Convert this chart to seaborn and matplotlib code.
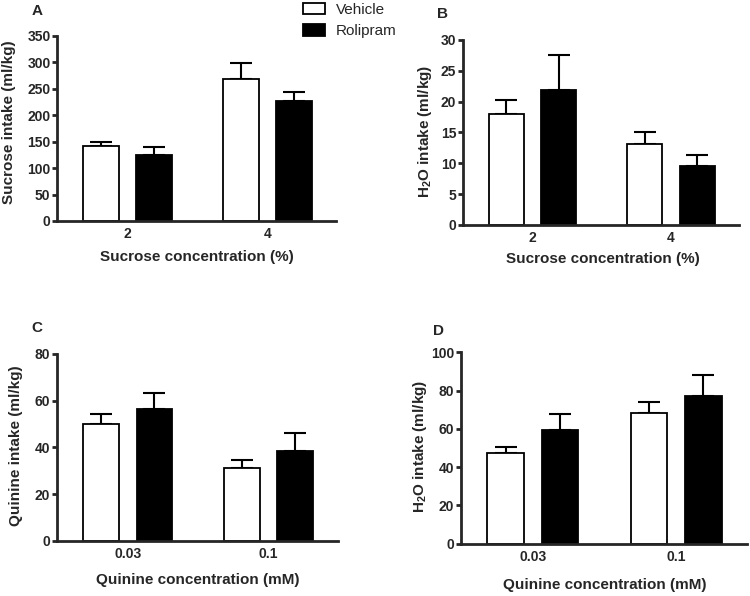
import numpy as np
import pandas as pd
import matplotlib
matplotlib.use("Agg")
import matplotlib.pyplot as plt
import seaborn as sns

# ---------------- data ----------------
groups = ["Vehicle", "Rolipram"]
sucrose_conc = ["2", "4"]
quinine_conc = ["0.03", "0.1"]

# A: sucrose intake (ml/kg)
sucrose_vehicle = [142, 268]
sucrose_vehicle_sem = [8, 30]
sucrose_rolipram = [124, 226]
sucrose_rolipram_sem = [16, 18]

# B: H2O intake during sucrose test (ml/kg)
water_suc_vehicle = [18.0, 13.1]
water_suc_vehicle_sem = [2.2, 1.9]
water_suc_rolipram = [21.9, 9.5]
water_suc_rolipram_sem = [5.6, 1.9]

# C: quinine intake (ml/kg)
quinine_vehicle = [49.8, 31.3]
quinine_vehicle_sem = [4.6, 3.3]
quinine_rolipram = [56.4, 38.6]
quinine_rolipram_sem = [6.8, 7.5]

# D: H2O intake during quinine test (ml/kg)
water_q_vehicle = [47.5, 68.1]
water_q_vehicle_sem = [3.2, 6.1]
water_q_rolipram = [59.4, 77.2]
water_q_rolipram_sem = [8.2, 10.8]

# ---------------- style ----------------
sns.set_style("ticks")
plt.rcParams["font.family"] = ["Liberation Sans", "DejaVu Sans"]
plt.rcParams["mathtext.fontset"] = "custom"
plt.rcParams["mathtext.rm"] = "Liberation Sans:bold"
plt.rcParams["mathtext.it"] = "Liberation Sans:bold"
plt.rcParams["mathtext.bf"] = "Liberation Sans:bold"

W, H = 750, 596
fig = plt.figure(figsize=(W / 100, H / 100), dpi=100)


def px_axes(left, right, bottom, top):
    return fig.add_axes([left / W, 1 - bottom / H, (right - left) / W, (bottom - top) / H])


def panel(ax, cats, veh, veh_sem, rol, rol_sem, ymax, ystep, legend=False):
    df = pd.DataFrame({
        "conc": cats + cats,
        "group": [groups[0]] * len(cats) + [groups[1]] * len(cats),
        "value": veh + rol,
    })
    sns.barplot(data=df, x="conc", y="value", hue="group", order=cats,
                hue_order=groups, palette={"Vehicle": "white", "Rolipram": "black"},
                edgecolor="black", linewidth=1.3, width=0.756, gap=0.33,
                saturation=1, errorbar=None, legend=legend, ax=ax, zorder=2)
    for container, sems in zip(ax.containers, [veh_sem, rol_sem]):
        for bar, s in zip(container, sems):
            x = bar.get_x() + bar.get_width() / 2
            ax.errorbar(x, bar.get_height(), yerr=[[0], [s]], color="black",
                        capsize=8, elinewidth=1.5, capthick=1.5, zorder=1)
    ax.set_xlim(-0.5, 1.49)
    ax.set_ylim(0, ymax)
    ax.set_yticks(np.arange(0, ymax + ystep / 2, ystep))
    ax.set_xlabel("")
    ax.set_ylabel("")
    sns.despine(ax=ax)
    for sp in ["left", "bottom"]:
        ax.spines[sp].set_linewidth(2.0)
    ax.tick_params(axis="y", length=3.8, width=2.0, pad=1.2, labelsize=10)
    ax.tick_params(axis="x", length=0, pad=4.5, labelsize=10)
    for lab in ax.get_xticklabels() + ax.get_yticklabels():
        lab.set_fontweight("bold")


axA = px_axes(57.5, 336, 221, 35.7)
axB = px_axes(463.3, 739, 225, 40)
axC = px_axes(57.3, 337.7, 541, 353.7)
axD = px_axes(461, 746.7, 543.7, 352.3)

panel(axA, sucrose_conc, sucrose_vehicle, sucrose_vehicle_sem,
      sucrose_rolipram, sucrose_rolipram_sem, 350, 50, legend=True)
panel(axB, sucrose_conc, water_suc_vehicle, water_suc_vehicle_sem,
      water_suc_rolipram, water_suc_rolipram_sem, 30, 5)
panel(axC, quinine_conc, quinine_vehicle, quinine_vehicle_sem,
      quinine_rolipram, quinine_rolipram_sem, 80, 20)
panel(axD, quinine_conc, water_q_vehicle, water_q_vehicle_sem,
      water_q_rolipram, water_q_rolipram_sem, 100, 20)

# legend
handles, labels = axA.get_legend_handles_labels()
if axA.get_legend() is not None:
    axA.get_legend().remove()
fig.legend(handles, labels, loc="upper left", bbox_to_anchor=(302.7 / W, 1 - 2.5 / H),
           frameon=False, borderpad=0, borderaxespad=0, handlelength=1.45,
           handleheight=0.82, handletextpad=0.72, labelspacing=0.45,
           prop={"size": 11})


def ftext(x, y, s, **kw):
    fig.text(x / W, 1 - y / H, s, ha="center", va="center", fontweight="bold", **kw)


# panel letters
ftext(37.5, 11, "A", fontsize=11)
ftext(442.5, 14, "B", fontsize=11)
ftext(37, 328.5, "C", fontsize=11)
ftext(438.5, 331, "D", fontsize=11)

# axis labels
ftext(197, 257, "Sucrose concentration (%)", fontsize=11)
ftext(602.5, 259, "Sucrose concentration (%)", fontsize=11)
ftext(198, 580, "Quinine concentration (mM)", fontsize=11)
ftext(604.7, 585, "Quinine concentration (mM)", fontsize=11)

ftext(9.5, 122, "Sucrose intake (ml/kg)", fontsize=11, rotation=90)
ftext(425, 131, "H$_2$O intake (ml/kg)", fontsize=11, rotation=90)
ftext(15.8, 446, "Quinine intake (ml/kg)", fontsize=11, rotation=90)
ftext(420, 446, "H$_2$O intake (ml/kg)", fontsize=11, rotation=90)

fig.savefig("out.png", dpi=100)
